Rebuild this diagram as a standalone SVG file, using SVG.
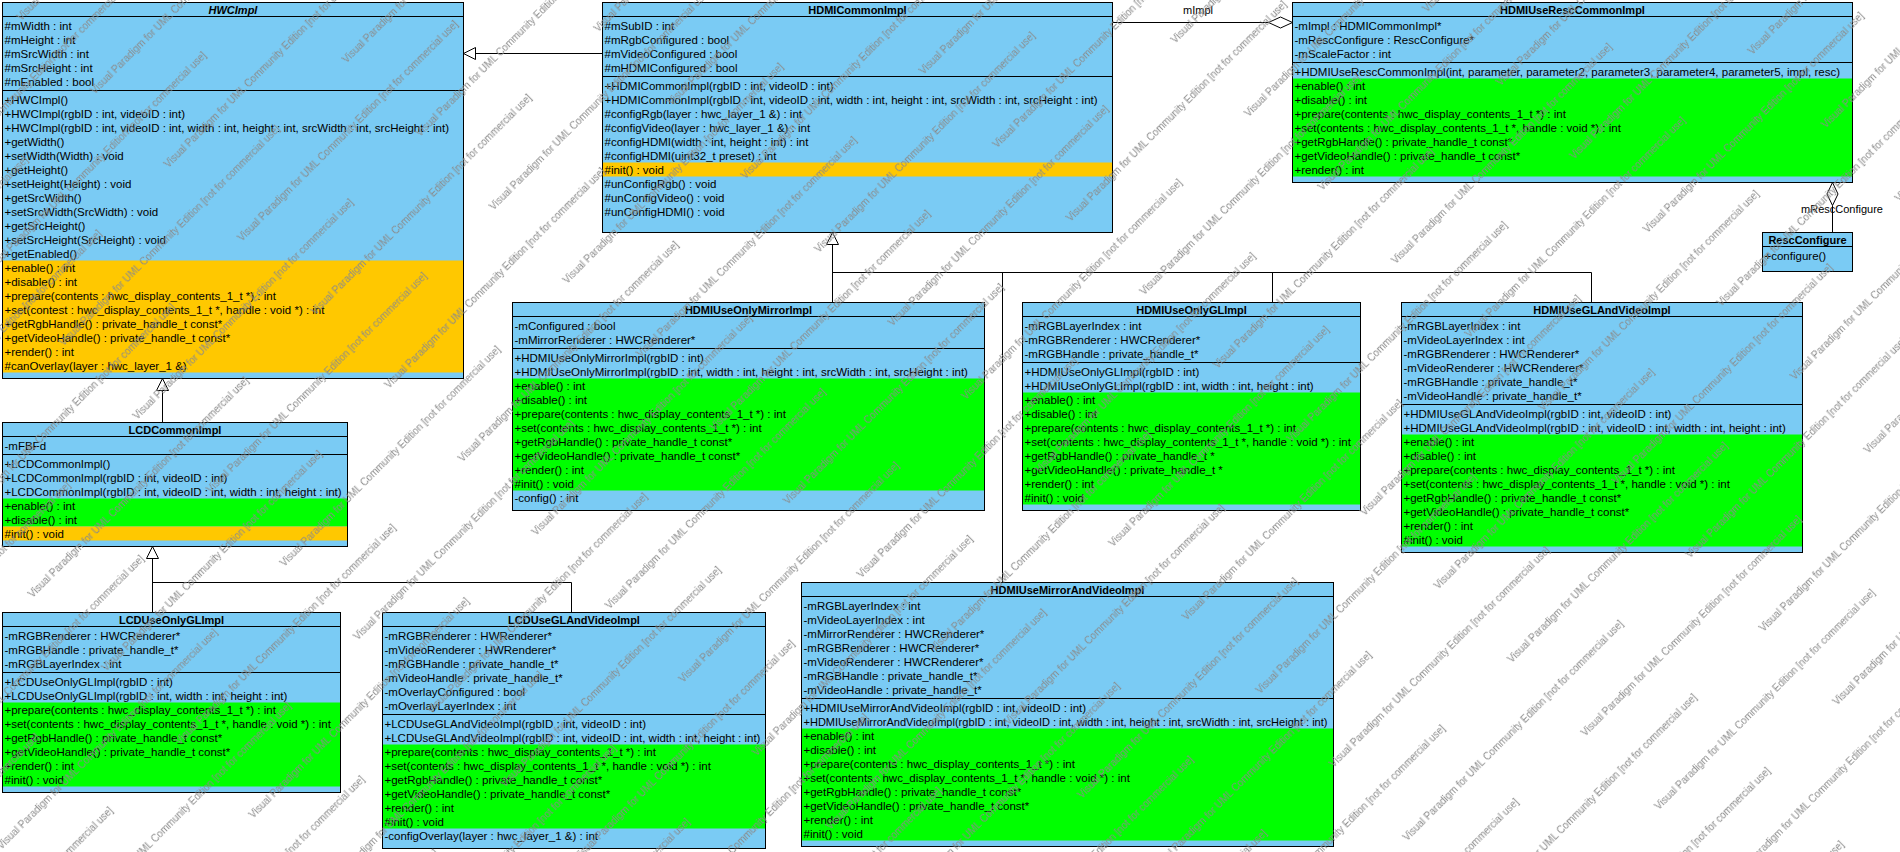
<svg xmlns="http://www.w3.org/2000/svg" width="1900" height="852" viewBox="0 0 1900 852">
<style>
.box{fill:#7ACBF4;stroke:none}
.frame{fill:none;stroke:#000;stroke-width:1}
.y{fill:#FFC800}
.g{fill:#00FF00}
.sep{stroke:#000;stroke-width:1}
.t{font-family:"Liberation Sans",Arial,sans-serif;font-size:11.5px;fill:#000}
.h{font-family:"Liberation Sans",Arial,sans-serif;font-size:11px;font-weight:bold;fill:#000;text-anchor:middle}
.ln{stroke:#000;stroke-width:1;fill:none}
.tri{fill:#fff;stroke:#000;stroke-width:1}
.lbl{font-family:"Liberation Sans",Arial,sans-serif;font-size:11px;fill:#000;text-anchor:middle}
.wm{font-family:"Liberation Sans",Arial,sans-serif;font-size:10px;fill:#8a8a8a}
</style>
<defs>
<pattern id="wmp" patternUnits="userSpaceOnUse" width="400" height="104" patternTransform="rotate(-45)">
<text class="wm" x="0" y="30">Visual Paradigm for UML Community Edition [not for commercial use]</text>
<text class="wm" x="200" y="82">Visual Paradigm for UML Community Edition [not for commercial use]</text>
<text class="wm" x="-200" y="82">Visual Paradigm for UML Community Edition [not for commercial use]</text>
</pattern>
</defs>
<rect x="0" y="0" width="1900" height="852" fill="#fff"/>

<g id="connectors">
<path class="ln" d="M602.5,53.5H475.5"/>
<polygon class="tri" points="463.5,53.5 475.5,47.5 475.5,59.5"/>
<path class="ln" d="M162.5,422.5V390.5"/>
<polygon class="tri" points="162.5,378.5 156.5,390.5 168.5,390.5"/>
<path class="ln" d="M152.5,558.5V612.5M152.5,582.5H571.5V612.5"/>
<polygon class="tri" points="152.5,546.5 146.5,558.5 158.5,558.5"/>
<path class="ln" d="M832.5,244.5V302.5M832.5,272.5H1591.5V302.5M1002.5,272.5V582.5M1272.5,272.5V302.5"/>
<polygon class="tri" points="832.5,232.5 826.5,244.5 838.5,244.5"/>
<path class="ln" d="M1112.5,22.5H1268.5"/>
<polygon class="tri" points="1268.5,22.5 1280.5,17 1292.5,22.5 1280.5,28"/>
<text class="lbl" x="1198" y="14">mImpl</text>
<path class="ln" d="M1832.5,205.5V232.5"/>
<polygon class="tri" points="1832.5,182.5 1838,194 1832.5,205.5 1827,194"/>
<text class="lbl" x="1842" y="213">mRescConfigure</text>
</g>

<g id="HWCImpl">
<rect class="box" x="2.5" y="2.5" width="461" height="376"/>
<rect class="y" x="2.5" y="260.5" width="461" height="112"/>
<rect class="frame" x="2.5" y="2.5" width="461" height="376"/>
<path class="sep" d="M2.5,16.5H463.5M2.5,90.5H463.5"/>
<text class="h" x="233" y="13.5" font-style="italic">HWCImpl</text>
<text class="t"><tspan x="4.5" y="29.5">#mWidth : int</tspan><tspan x="4.5" dy="14">#mHeight : int</tspan><tspan x="4.5" dy="14">#mSrcWidth : int</tspan><tspan x="4.5" dy="14">#mSrcHeight : int</tspan><tspan x="4.5" dy="14">#mEnabled : bool</tspan></text>
<text class="t"><tspan x="4.5" y="103.5">+HWCImpl()</tspan><tspan x="4.5" dy="14">+HWCImpl(rgbID : int, videoID : int)</tspan><tspan x="4.5" dy="14">+HWCImpl(rgbID : int, videoID : int, width : int, height : int, srcWidth : int, srcHeight : int)</tspan><tspan x="4.5" dy="14">+getWidth()</tspan><tspan x="4.5" dy="14">+setWidth(Width) : void</tspan><tspan x="4.5" dy="14">+getHeight()</tspan><tspan x="4.5" dy="14">+setHeight(Height) : void</tspan><tspan x="4.5" dy="14">+getSrcWidth()</tspan><tspan x="4.5" dy="14">+setSrcWidth(SrcWidth) : void</tspan><tspan x="4.5" dy="14">+getSrcHeight()</tspan><tspan x="4.5" dy="14">+setSrcHeight(SrcHeight) : void</tspan><tspan x="4.5" dy="14">+getEnabled()</tspan><tspan x="4.5" dy="14">+enable() : int</tspan><tspan x="4.5" dy="14">+disable() : int</tspan><tspan x="4.5" dy="14">+prepare(contents : hwc_display_contents_1_t *) : int</tspan><tspan x="4.5" dy="14">+set(contest : hwc_display_contents_1_t *, handle : void *) : int</tspan><tspan x="4.5" dy="14">+getRgbHandle() : private_handle_t const*</tspan><tspan x="4.5" dy="14">+getVideoHandle() : private_handle_t const*</tspan><tspan x="4.5" dy="14">+render() : int</tspan><tspan x="4.5" dy="14">#canOverlay(layer : hwc_layer_1 &amp;)</tspan></text>
</g>

<g id="HDMICommonImpl">
<rect class="box" x="602.5" y="2.5" width="510" height="230"/>
<rect class="y" x="602.5" y="162.5" width="510" height="14"/>
<rect class="frame" x="602.5" y="2.5" width="510" height="230"/>
<path class="sep" d="M602.5,16.5H1112.5M602.5,76.5H1112.5"/>
<text class="h" x="857.5" y="13.5">HDMICommonImpl</text>
<text class="t"><tspan x="604.5" y="29.5">#mSubID : int</tspan><tspan x="604.5" dy="14">#mRgbConfigured : bool</tspan><tspan x="604.5" dy="14">#mVideoConfigured : bool</tspan><tspan x="604.5" dy="14">#mHDMIConfigured : bool</tspan></text>
<text class="t"><tspan x="604.5" y="89.5">+HDMICommonImpl(rgbID : int, videoID : int)</tspan><tspan x="604.5" dy="14">+HDMICommonImpl(rgbID : int, videoID : int, width : int, height : int, srcWidth : int, srcHeight : int)</tspan><tspan x="604.5" dy="14">#configRgb(layer : hwc_layer_1 &amp;) : int</tspan><tspan x="604.5" dy="14">#configVideo(layer : hwc_layer_1 &amp;) : int</tspan><tspan x="604.5" dy="14">#configHDMI(width : int, height : int) : int</tspan><tspan x="604.5" dy="14">#configHDMI(uint32_t preset) : int</tspan><tspan x="604.5" dy="14">#init() : void</tspan><tspan x="604.5" dy="14">#unConfigRgb() : void</tspan><tspan x="604.5" dy="14">#unConfigVideo() : void</tspan><tspan x="604.5" dy="14">#unConfigHDMI() : void</tspan></text>
</g>

<g id="HDMIUseRescCommonImpl">
<rect class="box" x="1292.5" y="2.5" width="560" height="180"/>
<rect class="g" x="1292.5" y="78.5" width="560" height="98"/>
<rect class="frame" x="1292.5" y="2.5" width="560" height="180"/>
<path class="sep" d="M1292.5,16.5H1852.5M1292.5,62.5H1852.5"/>
<text class="h" x="1572.5" y="13.5">HDMIUseRescCommonImpl</text>
<text class="t"><tspan x="1294.5" y="29.5">-mImpl : HDMICommonImpl*</tspan><tspan x="1294.5" dy="14">-mRescConfigure : RescConfigure*</tspan><tspan x="1294.5" dy="14">-mScaleFactor : int</tspan></text>
<text class="t"><tspan x="1294.5" y="75.5">+HDMIUseRescCommonImpl(int, parameter, parameter2, parameter3, parameter4, parameter5, impl, resc)</tspan><tspan x="1294.5" dy="14">+enable() : int</tspan><tspan x="1294.5" dy="14">+disable() : int</tspan><tspan x="1294.5" dy="14">+prepare(contents : hwc_display_contents_1_t *) : int</tspan><tspan x="1294.5" dy="14">+set(contents : hwc_display_contents_1_t *, handle : void *) : int</tspan><tspan x="1294.5" dy="14">+getRgbHandle() : private_handle_t const*</tspan><tspan x="1294.5" dy="14">+getVideoHandle() : private_handle_t const*</tspan><tspan x="1294.5" dy="14">+render() : int</tspan></text>
</g>

<g id="RescConfigure">
<rect class="box" x="1762.5" y="232.5" width="90" height="39"/>
<rect class="frame" x="1762.5" y="232.5" width="90" height="39"/>
<path class="sep" d="M1762.5,246.5H1852.5"/>
<text class="h" x="1807.5" y="243.5">RescConfigure</text>
<text class="t" x="1764.5" y="259.5">+configure()</text>
</g>

<g id="LCDCommonImpl">
<rect class="box" x="2.5" y="422.5" width="345" height="124"/>
<rect class="g" x="2.5" y="498.5" width="345" height="28"/>
<rect class="y" x="2.5" y="526.5" width="345" height="14"/>
<rect class="frame" x="2.5" y="422.5" width="345" height="124"/>
<path class="sep" d="M2.5,436.5H347.5M2.5,454.5H347.5"/>
<text class="h" x="175" y="433.5">LCDCommonImpl</text>
<text class="t" x="4.5" y="449.5">-mFBFd</text>
<text class="t"><tspan x="4.5" y="467.5">+LCDCommonImpl()</tspan><tspan x="4.5" dy="14">+LCDCommonImpl(rgbID : int, videoID : int)</tspan><tspan x="4.5" dy="14">+LCDCommonImpl(rgbID : int, videoID : int, width : int, height : int)</tspan><tspan x="4.5" dy="14">+enable() : int</tspan><tspan x="4.5" dy="14">+disable() : int</tspan><tspan x="4.5" dy="14">#init() : void</tspan></text>
</g>

<g id="LCDUseOnlyGLImpl">
<rect class="box" x="2.5" y="612.5" width="338" height="180"/>
<rect class="g" x="2.5" y="702.5" width="338" height="84"/>
<rect class="frame" x="2.5" y="612.5" width="338" height="180"/>
<path class="sep" d="M2.5,626.5H340.5M2.5,672.5H340.5"/>
<text class="h" x="171.5" y="623.5">LCDUseOnlyGLImpl</text>
<text class="t"><tspan x="4.5" y="639.5">-mRGBRenderer : HWCRenderer*</tspan><tspan x="4.5" dy="14">-mRGBHandle : private_handle_t*</tspan><tspan x="4.5" dy="14">-mRGBLayerIndex : int</tspan></text>
<text class="t"><tspan x="4.5" y="685.5">+LCDUseOnlyGLImpl(rgbID : int)</tspan><tspan x="4.5" dy="14">+LCDUseOnlyGLImpl(rgbID : int, width : int, height : int)</tspan><tspan x="4.5" dy="14">+prepare(contents : hwc_display_contents_1_t *) : int</tspan><tspan x="4.5" dy="14">+set(contents : hwc_display_contents_1_t *, handle : void *) : int</tspan><tspan x="4.5" dy="14">+getRgbHandle() : private_handle_t const*</tspan><tspan x="4.5" dy="14">+getVideoHandle() : private_handle_t const*</tspan><tspan x="4.5" dy="14">+render() : int</tspan><tspan x="4.5" dy="14">#init() : void</tspan></text>
</g>

<g id="LCDUseGLAndVideoImpl">
<rect class="box" x="382.5" y="612.5" width="383" height="236"/>
<rect class="g" x="382.5" y="744.5" width="383" height="84"/>
<rect class="frame" x="382.5" y="612.5" width="383" height="236"/>
<path class="sep" d="M382.5,626.5H765.5M382.5,714.5H765.5"/>
<text class="h" x="574" y="623.5">LCDUseGLAndVideoImpl</text>
<text class="t"><tspan x="384.5" y="639.5">-mRGBRenderer : HWRenderer*</tspan><tspan x="384.5" dy="14">-mVideoRenderer : HWRenderer*</tspan><tspan x="384.5" dy="14">-mRGBHandle : private_handle_t*</tspan><tspan x="384.5" dy="14">-mVideoHandle : private_handle_t*</tspan><tspan x="384.5" dy="14">-mOverlayConfigured : bool</tspan><tspan x="384.5" dy="14">-mOverlayLayerIndex : int</tspan></text>
<text class="t"><tspan x="384.5" y="727.5">+LCDUseGLAndVideoImpl(rgbID : int, videoID : int)</tspan><tspan x="384.5" dy="14">+LCDUseGLAndVideoImpl(rgbID : int, videoID : int, width : int, height : int)</tspan><tspan x="384.5" dy="14">+prepare(contents : hwc_display_contents_1_t *) : int</tspan><tspan x="384.5" dy="14">+set(contents : hwc_display_contents_1_t *, handle : void *) : int</tspan><tspan x="384.5" dy="14">+getRgbHandle() : private_handle_t const*</tspan><tspan x="384.5" dy="14">+getVideoHandle() : private_handle_t const*</tspan><tspan x="384.5" dy="14">+render() : int</tspan><tspan x="384.5" dy="14">#init() : void</tspan><tspan x="384.5" dy="14">-configOverlay(layer : hwc_layer_1 &amp;) : int</tspan></text>
</g>

<g id="HDMIUseOnlyMirrorImpl">
<rect class="box" x="512.5" y="302.5" width="472" height="208"/>
<rect class="g" x="512.5" y="378.5" width="472" height="112"/>
<rect class="frame" x="512.5" y="302.5" width="472" height="208"/>
<path class="sep" d="M512.5,316.5H984.5M512.5,348.5H984.5"/>
<text class="h" x="748.5" y="313.5">HDMIUseOnlyMirrorImpl</text>
<text class="t"><tspan x="514.5" y="329.5">-mConfigured : bool</tspan><tspan x="514.5" dy="14">-mMirrorRenderer : HWCRenderer*</tspan></text>
<text class="t"><tspan x="514.5" y="361.5">+HDMIUseOnlyMirrorImpl(rgbID : int)</tspan><tspan x="514.5" dy="14">+HDMIUseOnlyMirrorImpl(rgbID : int, width : int, height : int, srcWidth : int, srcHeight : int)</tspan><tspan x="514.5" dy="14">+enable() : int</tspan><tspan x="514.5" dy="14">+disable() : int</tspan><tspan x="514.5" dy="14">+prepare(contents : hwc_display_contents_1_t *) : int</tspan><tspan x="514.5" dy="14">+set(contents : hwc_display_contents_1_t *) : int</tspan><tspan x="514.5" dy="14">+getRgbHandle() : private_handle_t const*</tspan><tspan x="514.5" dy="14">+getVideoHandle() : private_handle_t const*</tspan><tspan x="514.5" dy="14">+render() : int</tspan><tspan x="514.5" dy="14">#init() : void</tspan><tspan x="514.5" dy="14">-config() : int</tspan></text>
</g>

<g id="HDMIUseOnlyGLImpl">
<rect class="box" x="1022.5" y="302.5" width="338" height="208"/>
<rect class="g" x="1022.5" y="392.5" width="338" height="112"/>
<rect class="frame" x="1022.5" y="302.5" width="338" height="208"/>
<path class="sep" d="M1022.5,316.5H1360.5M1022.5,362.5H1360.5"/>
<text class="h" x="1191.5" y="313.5">HDMIUseOnlyGLImpl</text>
<text class="t"><tspan x="1024.5" y="329.5">-mRGBLayerIndex : int</tspan><tspan x="1024.5" dy="14">-mRGBRenderer : HWCRenderer*</tspan><tspan x="1024.5" dy="14">-mRGBHandle : private_handle_t*</tspan></text>
<text class="t"><tspan x="1024.5" y="375.5">+HDMIUseOnlyGLImpl(rgbID : int)</tspan><tspan x="1024.5" dy="14">+HDMIUseOnlyGLImpl(rgbID : int, width : int, height : int)</tspan><tspan x="1024.5" dy="14">+enable() : int</tspan><tspan x="1024.5" dy="14">+disable() : int</tspan><tspan x="1024.5" dy="14">+prepare(contents : hwc_display_contents_1_t *) : int</tspan><tspan x="1024.5" dy="14">+set(contents : hwc_display_contents_1_t *, handle : void *) : int</tspan><tspan x="1024.5" dy="14">+getRgbHandle() : private_handle_t *</tspan><tspan x="1024.5" dy="14">+getVideoHandle() : private_handle_t *</tspan><tspan x="1024.5" dy="14">+render() : int</tspan><tspan x="1024.5" dy="14">#init() : void</tspan></text>
</g>

<g id="HDMIUseGLAndVideoImpl">
<rect class="box" x="1401.5" y="302.5" width="401" height="250"/>
<rect class="g" x="1401.5" y="434.5" width="401" height="112"/>
<rect class="frame" x="1401.5" y="302.5" width="401" height="250"/>
<path class="sep" d="M1401.5,316.5H1802.5M1401.5,404.5H1802.5"/>
<text class="h" x="1602" y="313.5">HDMIUseGLAndVideoImpl</text>
<text class="t"><tspan x="1403.5" y="329.5">-mRGBLayerIndex : int</tspan><tspan x="1403.5" dy="14">-mVideoLayerIndex : int</tspan><tspan x="1403.5" dy="14">-mRGBRenderer : HWCRenderer*</tspan><tspan x="1403.5" dy="14">-mVideoRenderer : HWCRenderer*</tspan><tspan x="1403.5" dy="14">-mRGBHandle : private_handle_t*</tspan><tspan x="1403.5" dy="14">-mVideoHandle : private_handle_t*</tspan></text>
<text class="t"><tspan x="1403.5" y="417.5">+HDMIUseGLAndVideoImpl(rgbID : int, videoID : int)</tspan><tspan x="1403.5" dy="14">+HDMIUseGLAndVideoImpl(rgbID : int, videoID : int, width : int, height : int)</tspan><tspan x="1403.5" dy="14">+enable() : int</tspan><tspan x="1403.5" dy="14">+disable() : int</tspan><tspan x="1403.5" dy="14">+prepare(contents : hwc_display_contents_1_t *) : int</tspan><tspan x="1403.5" dy="14">+set(contents : hwc_display_contents_1_t *, handle : void *) : int</tspan><tspan x="1403.5" dy="14">+getRgbHandle() : private_handle_t const*</tspan><tspan x="1403.5" dy="14">+getVideoHandle() : private_handle_t const*</tspan><tspan x="1403.5" dy="14">+render() : int</tspan><tspan x="1403.5" dy="14">#init() : void</tspan></text>
</g>

<g id="HDMIUseMirrorAndVideoImpl">
<rect class="box" x="801.5" y="582.5" width="532" height="264"/>
<rect class="g" x="801.5" y="728.5" width="532" height="112"/>
<rect class="frame" x="801.5" y="582.5" width="532" height="264"/>
<path class="sep" d="M801.5,596.5H1333.5M801.5,698.5H1333.5"/>
<text class="h" x="1067.5" y="593.5">HDMIUseMirrorAndVideoImpl</text>
<text class="t"><tspan x="803.5" y="609.5">-mRGBLayerIndex : int</tspan><tspan x="803.5" dy="14">-mVideoLayerIndex : int</tspan><tspan x="803.5" dy="14">-mMirrorRenderer : HWCRenderer*</tspan><tspan x="803.5" dy="14">-mRGBRenderer : HWCRenderer*</tspan><tspan x="803.5" dy="14">-mVideoRenderer : HWCRenderer*</tspan><tspan x="803.5" dy="14">-mRGBHandle : private_handle_t*</tspan><tspan x="803.5" dy="14">-mVideoHandle : private_handle_t*</tspan></text>
<text class="t"><tspan x="803.5" y="711.5">+HDMIUseMirrorAndVideoImpl(rgbID : int, videoID : int)</tspan><tspan x="803.5" dy="14" textLength="524" lengthAdjust="spacingAndGlyphs">+HDMIUseMirrorAndVideoImpl(rgbID : int, videoID : int, width : int, height : int, srcWidth : int, srcHeight : int)</tspan><tspan x="803.5" dy="14">+enable() : int</tspan><tspan x="803.5" dy="14">+disable() : int</tspan><tspan x="803.5" dy="14">+prepare(contents : hwc_display_contents_1_t *) : int</tspan><tspan x="803.5" dy="14">+set(contents : hwc_display_contents_1_t *, handle : void *) : int</tspan><tspan x="803.5" dy="14">+getRgbHandle() : private_handle_t const*</tspan><tspan x="803.5" dy="14">+getVideoHandle() : private_handle_t const*</tspan><tspan x="803.5" dy="14">+render() : int</tspan><tspan x="803.5" dy="14">#init() : void</tspan></text>
</g>

<g id="watermark">
<rect x="0" y="0" width="1900" height="852" fill="url(#wmp)"/>
</g>
</svg>
